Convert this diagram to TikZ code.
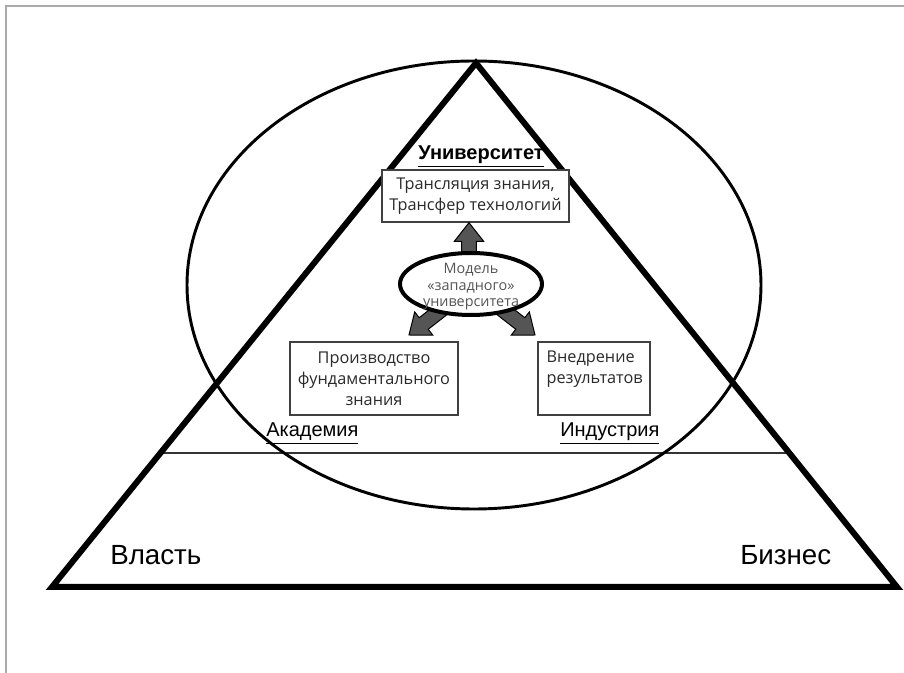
\documentclass[tikz,border=0pt]{standalone}
\usepackage{fontspec}
\setmainfont{Open Sans}
\newfontfamily\arialf{Liberation Sans}
\usetikzlibrary{shapes.geometric,calc}
\definecolor{boxtext}{HTML}{2A2A2A}
\definecolor{elltext}{HTML}{555555}
\definecolor{arrowgray}{HTML}{555555}
\definecolor{framegray}{HTML}{AAAAAA}
\newcommand\fatarrow[2]{%
  \path ($(#2)!14pt!(#1)$) coordinate (fa-p);
  \filldraw[arrowstyle]
    ($(#1)!5.5pt!90:(#2)$) -- ($(fa-p)!5.5pt!90:(#2)$) -- ($(fa-p)!11pt!90:(#2)$)
    -- (#2) -- ($(fa-p)!11pt!-90:(#2)$) -- ($(fa-p)!5.5pt!-90:(#2)$)
    -- ($(#1)!5.5pt!-90:(#2)$) -- cycle;
}
\tikzset{
  ubox/.style={draw=black!75, line width=1pt, fill=white, text=boxtext, align=center,
    inner sep=0pt, font={\fontsize{12.2}{15.75}\selectfont}},
  arrowstyle/.style={fill=arrowgray, draw=black, line width=0.75pt, line join=miter},
  corner/.style={font={\arialf\fontsize{20.8}{24}\selectfont}, anchor=base west, inner sep=0pt},
  sidelabel/.style={font={\arialf\fontsize{15}{18}\selectfont}, anchor=base west, inner sep=0pt},
}
\begin{document}
\begin{tikzpicture}[x=0.75pt, y=-0.75pt]
\useasboundingbox (0,0) rectangle (904,673);
% frame
\draw[framegray, line width=1pt] (6,673) -- (6,6) -- (904,6);
% triangle
\coordinate (A) at (476,63);
\coordinate (BL) at (52,587);
\coordinate (BR) at (897,587);
% horizontal divider
\coordinate (HL) at (intersection of BL--A and 0,453--10,453);
\coordinate (HR) at (intersection of BR--A and 0,453--10,453);
\draw[black!80, line width=1.2pt] (HL) -- (HR);
% big ellipse
\draw[line width=2.2pt] (474,285) ellipse [x radius=215.25pt, y radius=168pt];
\draw[line width=4.5pt, line join=miter] (A) -- (BR) -- (BL) -- cycle;
% top label
\node[inner sep=0pt, anchor=base, font={\arialf\bfseries\fontsize{15}{18}\selectfont}] (uni) at (481,160) {\underline{Университет}};
% boxes
\node[ubox, minimum width=140.25pt, minimum height=39pt] (t) at (475.5,196) {Трансляция знания,\\Трансфер технологий};
\node[ubox, minimum width=126pt, minimum height=54.75pt] (p) at (374,378.5) {Производство\\фундаментального\\знания};
\node[ubox, minimum width=84pt, minimum height=54.75pt] (v) at (594,378.5) {};
\node[inner sep=0pt, anchor=north west, align=left, text=boxtext, font={\fontsize{12.2}{15.75}\selectfont}] (vt) at ($(v.north west)+(9,9)$) {Внедрение\\результатов};
% arrows
\coordinate (u1) at (469,258);
\coordinate (l1) at (450,303);
\coordinate (l2) at (409,335);
\coordinate (r1) at (494,303);
\coordinate (r2) at (535,335);
\fatarrow{u1}{t.south -| u1}
\fatarrow{l1}{l2}
\fatarrow{r1}{r2}
% small ellipse
\node[ellipse, draw, line width=3pt, fill=white, minimum width=106.5pt, minimum height=46.5pt, inner sep=0pt] (m) at (471,284) {};
\node[align=center, inner sep=0pt, text=elltext, font={\fontsize{10.8}{12.4}\selectfont}] (mt) at (471,287) {Модель\\«западного»\\университета};
% side labels
\node[sidelabel] (ak) at (266,437) {\underline{Академия}};
\node[sidelabel] (ind) at (560,437) {\underline{Индустрия}};
\node[corner] (vl) at (110,565) {Власть};
\node[corner] (bz) at (740,565) {Бизнес};
\end{tikzpicture}
\end{document}
